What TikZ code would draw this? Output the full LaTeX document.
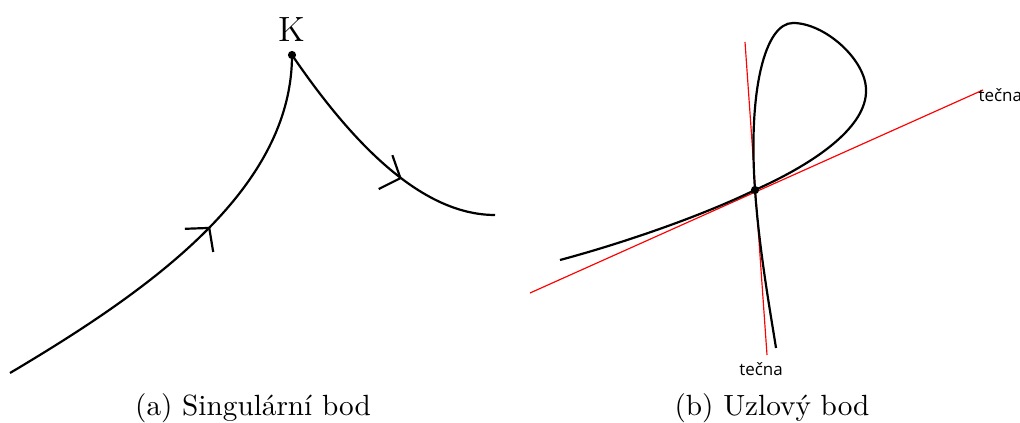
\documentclass[tikz,border=0pt]{standalone}
\usepackage{fontspec}
\newfontfamily\tecnafont{Open Sans}
\usetikzlibrary{decorations.markings,arrows.meta}

\begin{document}
\begin{tikzpicture}[x=0.342pt,y=-0.342pt,
  curve/.style={line width=0.75pt},
  tangent/.style={red,line width=0.4pt},
  flow/.style 2 args={postaction={decorate},decoration={markings,
    mark=at position #1 with {\arrow[rotate=#2]{Straight Barb[length=5.5pt,width=12.5pt]}}}},
  tlabel/.style={text=black,font=\tecnafont\fontsize{5.8}{7}\selectfont,inner sep=0pt}]
  \useasboundingbox (0,0) rectangle (1020,423);
  \coordinate (K) at (292,55);
  \coordinate (A) at (10,373);
  \coordinate (B) at (495,215);
  \draw[curve,flow={0.56}{5}] (A) .. controls (150,290) and (292,190) .. (K);
  \draw[curve,flow={0.62}{15}] (K) .. controls (350,140) and (420,215) .. (B);
  \fill (K) circle (1.4pt);
  \node[above=1pt,font=\large] (Klabel) at (K) {K};
  \node (capa) at (253,408) {(a) Singulární bod};
  \coordinate (U) at (755,190);
  \coordinate (S) at (560,260);
  \coordinate (E) at (776,348);
  \coordinate (t1a) at (530,293);
  \coordinate (t1b) at (983,90);
  \coordinate (t2a) at (745,42);
  \coordinate (t2b) at (767,355);
  \draw[tangent] (t1a) -- (t1b);
  \draw[tangent] (t2a) -- (t2b);
  \node[tlabel,anchor=north west] (tl1) at (978,88) {tečna};
  \node[tlabel,anchor=north] (tl2) at (761,362) {tečna};
  \draw[curve] (S) .. controls (620,244) and (700,216.8) .. (U)
    .. controls (820,160.9) and (867,125) .. (866,90)
    .. controls (866,60) and (825,23) .. (793,23)
    .. controls (765,23) and (748,90) .. (U)
    .. controls (759.2,250) and (770,310) .. (E);
  \fill (U) circle (1.4pt);
  \node (capb) at (772,408) {(b) Uzlový bod};
\end{tikzpicture}
\end{document}
